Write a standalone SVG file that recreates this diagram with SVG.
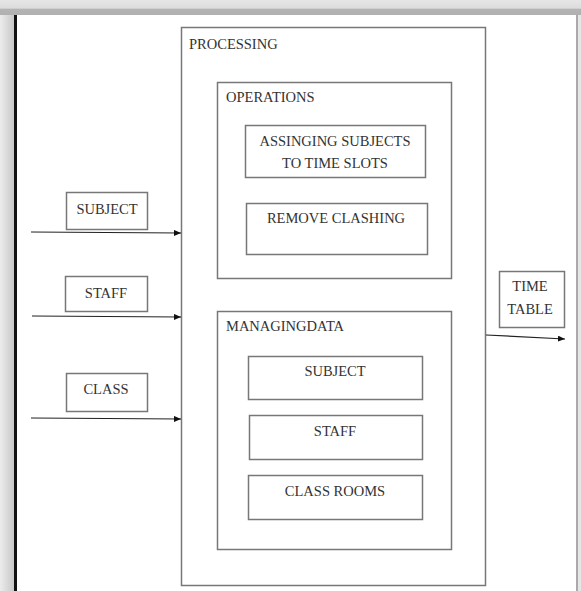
<svg xmlns="http://www.w3.org/2000/svg" width="581" height="591" viewBox="0 0 581 591">
<defs>
<linearGradient id="topg" x1="0" y1="0" x2="0" y2="1">
<stop offset="0" stop-color="#e6e6e6"/><stop offset="0.55" stop-color="#dcdcdc"/><stop offset="0.6" stop-color="#b4b4b4"/><stop offset="1" stop-color="#b0b0b0"/>
</linearGradient>
<linearGradient id="leftg" x1="0" y1="0" x2="1" y2="0">
<stop offset="0" stop-color="#ececec"/><stop offset="1" stop-color="#c8c8c8"/>
</linearGradient>
<marker id="ah" markerWidth="8" markerHeight="8" refX="7" refY="3" orient="auto" markerUnits="userSpaceOnUse">
<path d="M0,0 L7,3 L0,6 Z" fill="#111"/>
</marker>
<style>
.box{fill:#fff;stroke:#777;stroke-width:1.5}
.t{font-family:'Liberation Serif','DejaVu Serif',serif;font-size:14.5px;fill:#333}
.c{text-anchor:middle}
.con{stroke:#222;stroke-width:1.2;fill:none;marker-end:url(#ah)}
</style>
</defs>
<rect x="0" y="0" width="581" height="591" fill="#e6e6e6"/>
<rect x="0" y="0" width="581" height="15" fill="url(#topg)"/>
<rect x="0" y="15" width="14" height="576" fill="url(#leftg)"/>
<rect x="14" y="15" width="3" height="576" fill="#111"/>
<rect x="17" y="15" width="560" height="576" fill="#fff"/>
<rect x="576" y="15" width="2" height="576" fill="#aaa"/>

<g id="processing">
<rect class="box" x="181.5" y="27.5" width="304" height="558"/>
<text class="t" font-family="Liberation Serif, serif" x="189" y="49">PROCESSING</text>
</g>
<g id="operations">
<rect class="box" x="217.5" y="82.5" width="234" height="196"/>
<text class="t" font-family="Liberation Serif, serif" x="226" y="102">OPERATIONS</text>
</g>
<g id="assigning">
<rect class="box" x="245.5" y="125.5" width="180" height="52"/>
<text class="t c" font-family="Liberation Serif, serif" x="335" y="146">ASSINGING SUBJECTS</text>
<text class="t c" font-family="Liberation Serif, serif" x="335" y="168">TO TIME SLOTS</text>
</g>
<g id="remove-clashing">
<rect class="box" x="246.5" y="203.5" width="181" height="51"/>
<text class="t c" font-family="Liberation Serif, serif" x="336" y="223">REMOVE CLASHING</text>
</g>
<g id="managingdata">
<rect class="box" x="217.5" y="311.5" width="234" height="238"/>
<text class="t" font-family="Liberation Serif, serif" x="226" y="331">MANAGINGDATA</text>
</g>
<g id="md-subject">
<rect class="box" x="248.5" y="356.5" width="174" height="43"/>
<text class="t c" font-family="Liberation Serif, serif" x="335" y="376">SUBJECT</text>
</g>
<g id="md-staff">
<rect class="box" x="249.5" y="415.5" width="173" height="44"/>
<text class="t c" font-family="Liberation Serif, serif" x="335" y="436">STAFF</text>
</g>
<g id="md-classrooms">
<rect class="box" x="248.5" y="475.5" width="174" height="44"/>
<text class="t c" font-family="Liberation Serif, serif" x="335" y="496">CLASS ROOMS</text>
</g>
<g id="in-subject">
<rect class="box" x="66.5" y="192.5" width="81" height="37"/>
<text class="t c" font-family="Liberation Serif, serif" x="107" y="214">SUBJECT</text>
</g>
<g id="in-staff">
<rect class="box" x="65.5" y="276.5" width="82" height="35"/>
<text class="t c" font-family="Liberation Serif, serif" x="106" y="298">STAFF</text>
</g>
<g id="in-class">
<rect class="box" x="66.5" y="373.5" width="81" height="38"/>
<text class="t c" font-family="Liberation Serif, serif" x="106" y="394">CLASS</text>
</g>
<g id="timetable">
<rect class="box" x="499.5" y="271.5" width="65" height="56"/>
<text class="t c" font-family="Liberation Serif, serif" x="530" y="291">TIME</text>
<text class="t c" font-family="Liberation Serif, serif" x="530" y="314">TABLE</text>
</g>
<g id="connectors">
<line class="con" x1="31" y1="232" x2="181" y2="233"/>
<line class="con" x1="32" y1="316" x2="181" y2="317"/>
<line class="con" x1="31" y1="418" x2="181" y2="419"/>
<line class="con" x1="486" y1="335" x2="565" y2="339"/>
</g>
</svg>
